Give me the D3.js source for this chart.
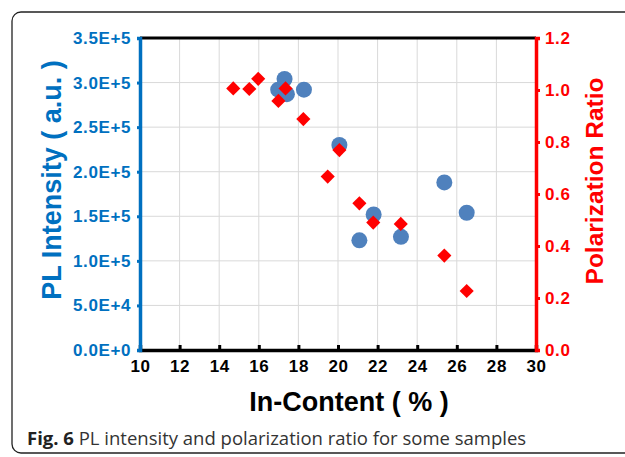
<!DOCTYPE html>
<html>
<head>
<meta charset="utf-8">
<script src="https://cdn.jsdelivr.net/npm/d3@7"></script>
<style>
  body { margin: 0; background: #fff; }
  svg { display: block; }
</style>
</head>
<body>
<div id="graph"></div>
<script>
// PL intensity (left axis) vs In-content
var plContent = [16.98, 17.3, 17.42, 18.28, 20.07, 21.08, 21.8, 23.18, 25.37, 26.5];
var plIntensity = [2.92e5, 3.04e5, 2.87e5, 2.92e5, 2.30e5, 1.23e5, 1.52e5, 1.27e5, 1.88e5, 1.54e5];

// polarization ratio (right axis) vs In-content
var prContent = [14.71, 15.52, 15.97, 16.99, 17.35, 18.25, 19.48, 20.07, 21.08, 21.78, 23.17, 25.37, 26.5];
var prRatio = [1.006, 1.004, 1.043, 0.958, 1.006, 0.888, 0.667, 0.769, 0.564, 0.49, 0.485, 0.363, 0.227];

var xTicks = [10, 12, 14, 16, 18, 20, 22, 24, 26, 28, 30];
var yLeftTicks = [0, 5e4, 1e5, 1.5e5, 2e5, 2.5e5, 3e5, 3.5e5];
var yRightTicks = [0, 0.2, 0.4, 0.6, 0.8, 1.0, 1.2];

var W = 625, H = 457;
var margin = { top: 38, right: 89, bottom: 107, left: 140 };

var svg = d3.select("#graph").append("svg")
  .attr("width", W).attr("height", H);

// figure frame
svg.append("rect")
  .attr("x", 12).attr("y", 12)
  .attr("width", 640).attr("height", 441)
  .attr("rx", 9)
  .attr("fill", "none")
  .attr("stroke", "#222")
  .attr("stroke-width", 1.3);

var x = d3.scaleLinear().domain([10, 30]).range([margin.left, W - margin.right]);
var yL = d3.scaleLinear().domain([0, 3.5e5]).range([H - margin.bottom, margin.top]);
var yR = d3.scaleLinear().domain([0, 1.2]).range([H - margin.bottom, margin.top]);

var blue = "#0070C0", red = "#FF0000";
var font = "'Liberation Sans', Arial, sans-serif";

// grid
svg.append("g").selectAll("line.v")
  .data(xTicks.slice(1, -1)).enter().append("line")
  .attr("x1", x).attr("x2", x)
  .attr("y1", yL(3.5e5)).attr("y2", yL(0))
  .attr("stroke", "#d9d9d9").attr("stroke-width", 1);
svg.append("g").selectAll("line.h")
  .data(yLeftTicks.slice(1, -1)).enter().append("line")
  .attr("y1", yL).attr("y2", yL)
  .attr("x1", x(10)).attr("x2", x(30))
  .attr("stroke", "#d9d9d9").attr("stroke-width", 1);

// top border
svg.append("line")
  .attr("x1", x(10)).attr("x2", x(30))
  .attr("y1", yL(3.5e5)).attr("y2", yL(3.5e5))
  .attr("stroke", "#000").attr("stroke-width", 3);

// bottom axis
var xAxis = svg.append("g")
  .attr("transform", "translate(0," + yL(0) + ")")
  .call(d3.axisBottom(x).tickValues(xTicks).tickSize(-5).tickPadding(10).tickFormat(d3.format("d")));
xAxis.select(".domain").attr("stroke", "#000").attr("stroke-width", 3.5);
xAxis.selectAll(".tick line").attr("stroke", "#000").attr("stroke-width", 3);
xAxis.selectAll("text")
  .style("font-family", font).style("font-weight", "bold")
  .style("font-size", "17px").style("letter-spacing", "0.6px").attr("fill", "#000");

// left axis
var yAxisL = svg.append("g")
  .attr("transform", "translate(" + x(10) + ",0)")
  .call(d3.axisLeft(yL).tickValues(yLeftTicks).tickSize(3).tickPadding(6)
    .tickFormat(function(d) {
      var e = d === 0 ? 0 : Math.floor(Math.log10(d));
      var m = d / Math.pow(10, e);
      return m.toFixed(1) + "E+" + e;
    }));
yAxisL.select(".domain").attr("stroke", blue).attr("stroke-width", 3.5);
yAxisL.selectAll(".tick line").attr("stroke", blue).attr("stroke-width", 3);
yAxisL.selectAll("text")
  .style("font-family", font).style("font-weight", "bold")
  .style("font-size", "17px").style("letter-spacing", "0.6px").attr("fill", blue);

// right axis
var yAxisR = svg.append("g")
  .attr("transform", "translate(" + x(30) + ",0)")
  .call(d3.axisRight(yR).tickValues(yRightTicks).tickSize(4).tickPadding(5).tickFormat(d3.format(".1f")));
yAxisR.select(".domain").attr("stroke", red).attr("stroke-width", 3.5);
yAxisR.selectAll(".tick line").attr("stroke", red).attr("stroke-width", 3);
yAxisR.selectAll("text")
  .style("font-family", font).style("font-weight", "bold")
  .style("font-size", "17px").style("letter-spacing", "0.6px").attr("fill", red);

// PL intensity circles
svg.append("g").selectAll("circle")
  .data(plContent).enter().append("circle")
  .attr("cx", function(d) { return x(d); })
  .attr("cy", function(d, i) { return yL(plIntensity[i]); })
  .attr("r", 8)
  .attr("fill", "#4F81BD");

// polarization ratio diamonds
svg.append("g").selectAll("path")
  .data(prContent).enter().append("path")
  .attr("d", d3.symbol().type(d3.symbolSquare).size(100))
  .attr("transform", function(d, i) {
    return "translate(" + x(d) + "," + yR(prRatio[i]) + ") rotate(45)";
  })
  .attr("fill", red);

// axis titles
svg.append("text")
  .attr("x", 349).attr("y", 411)
  .attr("text-anchor", "middle")
  .style("font-family", font).style("font-weight", "bold").style("font-size", "27px")
  .attr("fill", "#000")
  .text("In-Content ( % )");

svg.append("text")
  .attr("transform", "translate(61,180) rotate(-90)")
  .attr("text-anchor", "middle")
  .style("font-family", font).style("font-weight", "bold").style("font-size", "27px")
  .attr("fill", blue)
  .text("PL Intensity ( a.u. )");

svg.append("text")
  .attr("transform", "translate(603,181) rotate(-90)")
  .attr("text-anchor", "middle")
  .style("font-family", font).style("font-weight", "bold").style("font-size", "24.5px")
  .attr("fill", red)
  .text("Polarization Ratio");

// caption
var cap = svg.append("text")
  .attr("x", 27).attr("y", 445)
  .style("font-family", "'Open Sans', sans-serif").style("font-size", "18.5px")
  .attr("fill", "#333");
cap.append("tspan").style("font-weight", "bold").attr("fill", "#222").text("Fig. 6");
cap.append("tspan").text(" PL intensity and polarization ratio for some samples");
</script>
</body>
</html>
